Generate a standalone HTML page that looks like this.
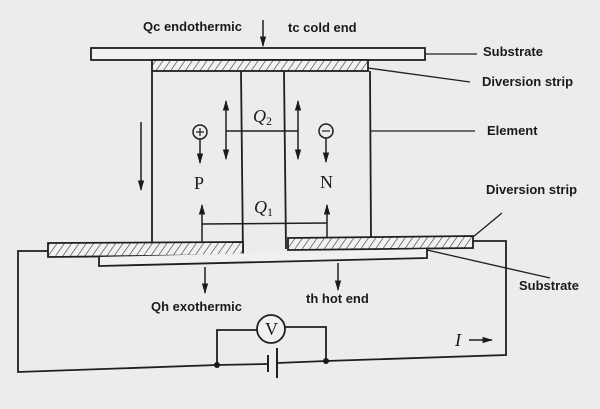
<!DOCTYPE html>
<html><head><meta charset="utf-8"><style>
html,body{margin:0;padding:0;background:#ecedeb;}
svg{display:block}
.t{font-family:"Liberation Sans",sans-serif;font-weight:bold;font-size:13px;fill:#1a1a1a}
.s{font-family:"Liberation Serif",serif;font-size:18px;fill:#1a1a1a}
</style></head><body>
<svg width="600" height="409" viewBox="0 0 600 409" xmlns="http://www.w3.org/2000/svg">
<defs>
<pattern id="h" width="6" height="6" patternUnits="userSpaceOnUse" patternTransform="rotate(35)">
<rect width="6" height="6" fill="#f2f2f0"/><line x1="0" y1="0" x2="0" y2="6" stroke="#333" stroke-width="1.2"/></pattern>
<marker id="a" viewBox="0 0 10 10" refX="9" refY="5" markerWidth="7" markerHeight="7" orient="auto-start-reverse"><path d="M0,2 L10,5 L0,8 z" fill="#1a1a1a"/></marker>
</defs>
<rect width="600" height="409" fill="#ecedeb"/>
<g stroke="#1f1f1f" stroke-width="1.8" fill="none">
<rect x="91" y="48" width="334" height="12" fill="#f0f0ee"/>
<rect x="152" y="60" width="216" height="11" fill="url(#h)"/>
<line x1="152" y1="71" x2="152" y2="243"/>
<line x1="370" y1="71" x2="371" y2="238"/>
<line x1="241" y1="71" x2="243" y2="256"/>
<line x1="284" y1="71" x2="286" y2="249"/>
<polygon points="48,243 243,242 243,255 48,257" fill="url(#h)"/>
<polygon points="288,238 473,236 473,248 288,250" fill="url(#h)"/>
<line x1="243" y1="256" x2="288" y2="255"/>
<polyline points="99,257 99,266 427,258 427,249" fill="#f0f0ee"/>
<polyline points="48,251 18,251 18,372 217,365 268,364"/>
<polyline points="277,363 326,361 506,355 506,241 473,241"/>
<line x1="268" y1="355" x2="268" y2="372" stroke-width="2"/>
<line x1="277" y1="348" x2="277" y2="378" stroke-width="2"/>
<polyline points="217,365 217,330 257,330"/>
<polyline points="285,327 326,327 326,361"/>
<circle cx="271" cy="329" r="14" fill="#f0f0ee"/>
<line x1="425" y1="54" x2="477" y2="54" stroke-width="1.3"/>
<line x1="368" y1="68" x2="470" y2="82" stroke-width="1.3"/>
<line x1="371" y1="131" x2="475" y2="131" stroke-width="1.3"/>
<line x1="473" y1="237" x2="502" y2="213" stroke-width="1.3"/>
<line x1="427" y1="250" x2="550" y2="278" stroke-width="1.3"/>
<g stroke-width="1.5">
<line x1="263" y1="20" x2="263" y2="46" marker-end="url(#a)"/>
<line x1="141" y1="122" x2="141" y2="190" marker-end="url(#a)"/>
<line x1="226" y1="101" x2="226" y2="159" marker-start="url(#a)" marker-end="url(#a)"/>
<line x1="298" y1="101" x2="298" y2="159" marker-start="url(#a)" marker-end="url(#a)"/>
<line x1="226" y1="131" x2="298" y2="131"/>
<circle cx="200" cy="132" r="7"/>
<circle cx="326" cy="131" r="7"/>
<line x1="200" y1="139" x2="200" y2="163" marker-end="url(#a)"/>
<line x1="326" y1="138" x2="326" y2="162" marker-end="url(#a)"/>
<line x1="202" y1="242" x2="202" y2="205" marker-end="url(#a)"/>
<line x1="327" y1="238" x2="327" y2="205" marker-end="url(#a)"/>
<line x1="202" y1="224" x2="327" y2="223"/>
<line x1="205" y1="267" x2="205" y2="293" marker-end="url(#a)"/>
<line x1="338" y1="263" x2="338" y2="290" marker-end="url(#a)"/>
<line x1="469" y1="340" x2="492" y2="340" marker-end="url(#a)"/>
<line x1="196" y1="132" x2="204" y2="132" stroke-width="1.2"/>
<line x1="200" y1="128" x2="200" y2="136" stroke-width="1.2"/>
<line x1="322" y1="131" x2="330" y2="131" stroke-width="1.2"/>
</g>
</g>
<circle cx="217" cy="365" r="3" fill="#1a1a1a"/>
<circle cx="326" cy="361" r="3" fill="#1a1a1a"/>
<text class="t" x="143" y="31">Qc endothermic</text>
<text class="t" x="288" y="32">tc cold end</text>
<text class="t" x="483" y="56">Substrate</text>
<text class="t" x="482" y="86">Diversion strip</text>
<text class="t" x="487" y="135">Element</text>
<text class="t" x="486" y="194">Diversion strip</text>
<text class="t" x="519" y="290">Substrate</text>
<text class="t" x="151" y="311">Qh exothermic</text>
<text class="t" x="306" y="303">th hot end</text>
<text class="s" x="194" y="189">P</text>
<text class="s" x="320" y="188">N</text>
<text class="s" x="253" y="122" font-style="italic">Q<tspan font-size="12" dy="3" font-style="normal">2</tspan></text>
<text class="s" x="254" y="213" font-style="italic">Q<tspan font-size="12" dy="3" font-style="normal">1</tspan></text>
<text class="s" x="265" y="335" font-size="16">V</text>
<text class="s" x="455" y="346" font-style="italic">I</text>
</svg>
</body></html>
